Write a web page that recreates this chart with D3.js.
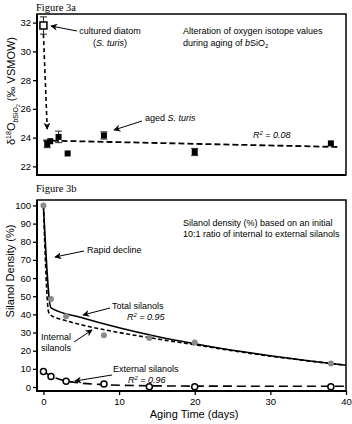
<!DOCTYPE html>
<html>
<head>
<meta charset="utf-8">
<script src="https://cdn.jsdelivr.net/npm/d3@7"></script>
<style>
body{margin:0;background:#fff;}
text{font-family:"Liberation Sans",Arial,sans-serif;}
</style>
</head>
<body>
<script>
// ---- data ----
// fig 3a: d18O of bSiO2, day / value / error
var cultured = [[0, 31.8, 0.6]];
var aged = [[0.5, 23.55, 0.25], [0.9, 23.75, 0.1], [2, 24.05, 0.4], [3.2, 22.9, 0.1],
            [8, 24.15, 0.25], [20, 23.0, 0.25], [38, 23.6, 0.1]];
var fitA = [[0, 23.8], [39, 23.35]];
var decayArrow = [[0, 31.2], [0.5, 24.6]];
var ticksA = [22, 24, 26, 28, 30, 32];

// fig 3b: silanol density
var totalPts = [[0, 100], [1, 48.5], [3, 39], [8, 28.5], [14, 27], [20, 24.5], [38, 13]];
var totalLine = [[0, 100], [1, 43.6], [5, 38.3], [10, 32.6], [15, 27.8], [20, 23.8],
                 [25, 20.2], [30, 17.2], [35, 14.5], [40, 12]];
var internalLine = [[0, 100], [0.7, 41], [1, 39.5], [3, 36.5], [6, 33.3], [10, 30],
                    [15, 26.5], [20, 23.3], [25, 20], [30, 17], [35, 14.4], [40, 12]];
var externalPts = [[0, 8.5], [1, 5.8], [3, 3.2], [8, 1.6], [14, 0.2], [20, 0.2], [38, 0.2]];
var externalLine = [[0, 8.8], [1, 6], [2, 4.4], [3, 3.3], [5, 2.1], [8, 1.3], [12, 0.8],
                    [20, 0.5], [40, 0.4]];
var ticksB = [0, 10, 20, 30, 40, 50, 60, 70, 80, 90, 100];
var ticksX = [0, 10, 20, 30, 40];

var W = 352, H = 424;
var svg = d3.select("body").append("svg").attr("width", W).attr("height", H);

var defs = svg.append("defs");
defs.append("marker").attr("id", "arr")
	.attr("viewBox", "0 0 10 10").attr("refX", 9).attr("refY", 5)
	.attr("markerWidth", 7).attr("markerHeight", 7).attr("markerUnits", "userSpaceOnUse")
	.attr("orient", "auto")
	.append("path").attr("d", "M0,0L10,5L0,10L3,5Z").attr("fill", "#000");

var x = d3.scaleLinear().domain([-0.85, 40]).range([37, 346]);
var yA = d3.scaleLinear().domain([21.4, 32.6]).range([175, 14]);
var yB = d3.scaleLinear().domain([-2.2, 103]).range([391, 200]);

function frame(y){
	var y0 = y.range()[1], y1 = y.range()[0];
	svg.append("rect").attr("x", 37).attr("y", y0).attr("width", 309).attr("height", y1 - y0)
		.attr("fill", "none").attr("stroke", "#000").attr("stroke-width", 1.5);
	svg.append("path").attr("d", "M37," + y0 + "V" + y1 + "H346")
		.attr("fill", "none").attr("stroke", "#000").attr("stroke-width", 2);
}
function leftAxis(y, ticks){
	var g = svg.append("g").attr("transform", "translate(37,0)")
		.call(d3.axisLeft(y).tickValues(ticks).tickSize(4).tickSizeOuter(0));
	g.select(".domain").remove();
	g.selectAll("line").attr("stroke-width", 1.3);
	g.selectAll("text").attr("font-size", 9.5).attr("font-family", "Liberation Sans, Arial").attr("dx", 1);
}
function label(t, px, py, opt){
	opt = opt || {};
	return svg.append("text").attr("x", px).attr("y", py)
		.attr("font-size", opt.size || 9)
		.attr("font-style", opt.italic ? "italic" : null)
		.attr("text-anchor", opt.anchor || "start")
		.text(t);
}
function arrow(x1, y1, x2, y2){
	svg.append("line").attr("x1", x1).attr("y1", y1).attr("x2", x2).attr("y2", y2)
		.attr("stroke", "#000").attr("stroke-width", 1).attr("marker-end", "url(#arr)");
}
function rsq(val, px, py){
	var r = label("R", px, py, {italic: true});
	r.append("tspan").attr("font-size", 6).attr("dy", -3).text("2");
	r.append("tspan").attr("dy", 3).text(" = " + val);
}

// ================= Figure 3a =================
frame(yA);
leftAxis(yA, ticksA);
svg.append("text").attr("x", 36).attr("y", 11).attr("font-size", 10.5)
	.style("font-family", "Liberation Serif, Times New Roman, serif").text("Figure 3a");

var lineA = d3.line().x(function(d){ return x(d[0]); }).y(function(d){ return yA(d[1]); });
svg.append("path").attr("d", lineA(fitA)).attr("fill", "none").attr("stroke", "#000")
	.attr("stroke-width", 1.8).attr("stroke-dasharray", "6,3");
svg.append("path").attr("d", lineA(decayArrow)).attr("fill", "none").attr("stroke", "#000")
	.attr("stroke-width", 1.6).attr("stroke-dasharray", "4,3").attr("marker-end", "url(#arr)");

function errBars(data){
	data.forEach(function(d){
		if(d[2] < 0.15) return;
		var cx = x(d[0]);
		svg.append("path").attr("d", "M" + cx + "," + yA(d[1] + d[2]) + "V" + yA(d[1] - d[2]) +
			"M" + (cx - 3.5) + "," + yA(d[1] + d[2]) + "h7" +
			"M" + (cx - 3.5) + "," + yA(d[1] - d[2]) + "h7")
			.attr("stroke", "#222").attr("stroke-width", 1).attr("fill", "none");
	});
}
errBars(cultured);
errBars(aged);
svg.selectAll(".sqA").data(aged).enter().append("rect")
	.attr("x", function(d){ return x(d[0]) - 3; })
	.attr("y", function(d){ return yA(d[1]) - 3; })
	.attr("width", 6).attr("height", 6).attr("fill", "#000");
svg.selectAll(".sqC").data(cultured).enter().append("rect")
	.attr("x", function(d){ return x(d[0]) - 3.5; })
	.attr("y", function(d){ return yA(d[1]) - 3.5; })
	.attr("width", 7).attr("height", 7).attr("fill", "#fff")
	.attr("stroke", "#000").attr("stroke-width", 1.5);

label("cultured diatom", 110, 34, {anchor: "middle"});
var st = label("(", 110, 46, {anchor: "middle"});
st.append("tspan").attr("font-style", "italic").text("S. turis");
st.append("tspan").text(")");
arrow(77, 31, 51, 26);

label("Alteration of oxygen isotope values", 183, 34);
var t2 = label("during aging of ", 183, 46);
t2.append("tspan").attr("font-style", "italic").text("b");
t2.append("tspan").text("SiO");
t2.append("tspan").attr("font-size", 6).attr("dy", 2).text("2");

var ag = label("aged ", 145, 121);
ag.append("tspan").attr("font-style", "italic").text("S. turis");
arrow(142, 121, 114, 130);

rsq("0.08", 253, 138);

// y label 3a
var yl = svg.append("text").attr("transform", "translate(15,91) rotate(-90)")
	.attr("text-anchor", "middle").attr("font-size", 11);
yl.append("tspan").text("δ");
yl.append("tspan").attr("font-size", 7).attr("dy", -4).text("18");
yl.append("tspan").attr("dy", 4).text("O");
yl.append("tspan").attr("font-size", 7).attr("dy", 3).attr("font-style", "italic").text("b");
yl.append("tspan").attr("font-size", 7).text("SiO");
yl.append("tspan").attr("font-size", 5).attr("dy", 1.5).text("2");
yl.append("tspan").attr("dy", -4.5).text(" (‰ VSMOW)");

// ================= Figure 3b =================
frame(yB);
leftAxis(yB, ticksB);
svg.append("text").attr("x", 36).attr("y", 192).attr("font-size", 10.5)
	.style("font-family", "Liberation Serif, Times New Roman, serif").text("Figure 3b");

var gx = svg.append("g").attr("transform", "translate(0,391)")
	.call(d3.axisBottom(x).tickValues(ticksX).tickSize(4).tickSizeOuter(0));
gx.select(".domain").remove();
gx.selectAll("line").attr("stroke-width", 1.3);
gx.selectAll("text").attr("font-size", 9.5).attr("font-family", "Liberation Sans, Arial");

var lineB = d3.line().x(function(d){ return x(d[0]); }).y(function(d){ return yB(d[1]); })
	.curve(d3.curveMonotoneX);
svg.append("path").attr("d", lineB(internalLine)).attr("fill", "none").attr("stroke", "#000")
	.attr("stroke-width", 1.6).attr("stroke-dasharray", "4,2.5");
svg.append("path").attr("d", lineB(totalLine)).attr("fill", "none").attr("stroke", "#000")
	.attr("stroke-width", 1.6);
svg.append("path").attr("d", lineB(externalLine)).attr("fill", "none").attr("stroke", "#000")
	.attr("stroke-width", 1.6).attr("stroke-dasharray", "9,5");

svg.selectAll(".tot").data(totalPts).enter().append("circle")
	.attr("cx", function(d){ return x(d[0]); })
	.attr("cy", function(d){ return yB(d[1]); })
	.attr("r", 3).attr("fill", "#8a8a8a");
svg.selectAll(".ext").data(externalPts).enter().append("circle")
	.attr("cx", function(d){ return x(d[0]); })
	.attr("cy", function(d){ return yB(d[1]); })
	.attr("r", 3).attr("fill", "#fff").attr("stroke", "#000").attr("stroke-width", 1.5);

label("Silanol density (%) based on an initial", 183, 226);
label("10:1 ratio of internal to external silanols", 183, 237);

label("Rapid decline", 87, 253);
arrow(84, 251, 55, 257);

label("Total silanols", 112, 309);
rsq("0.95", 127, 320);
arrow(110, 308, 83, 315);

label("Internal", 41, 340);
label("silanols", 41, 351);
arrow(74, 342, 92, 330);

label("External silanols", 113, 372);
rsq("0.96", 128, 383);
arrow(112, 375, 75, 381);

svg.append("text").attr("transform", "translate(14,271) rotate(-90)")
	.attr("text-anchor", "middle").attr("font-size", 11).text("Silanol Density (%)");
label("Aging Time (days)", 194, 418, {anchor: "middle", size: 11});
</script>
</body>
</html>
